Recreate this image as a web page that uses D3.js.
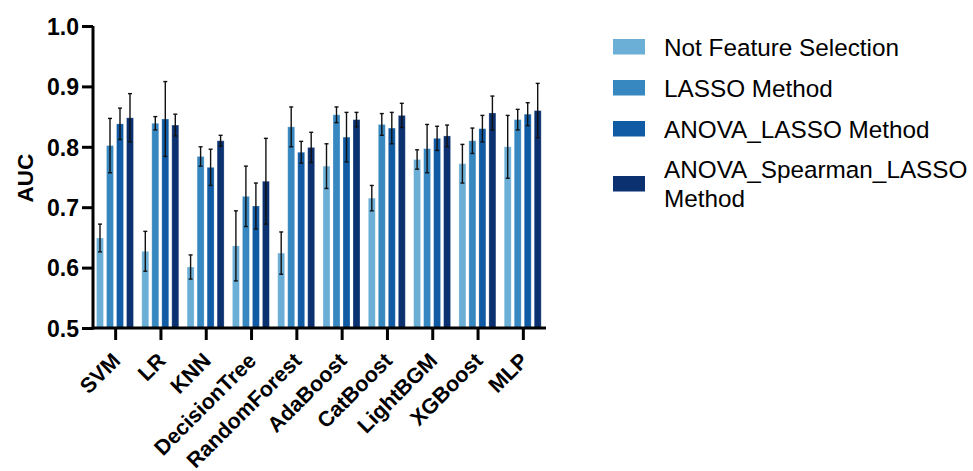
<!DOCTYPE html>
<html><head><meta charset="utf-8">
<script src="https://cdn.jsdelivr.net/npm/d3@7/dist/d3.min.js"></script>
<style>body{margin:0;background:#fff;} svg{display:block;}</style>
</head><body>
<svg id="chart" width="973" height="471"></svg>
<script>
const categories = ["SVM","LR","KNN","DecisionTree","RandomForest","AdaBoost","CatBoost","LightBGM","XGBoost","MLP"];
const seriesNames = ["Not Feature Selection","LASSO Method","ANOVA_LASSO Method","ANOVA_Spearman_LASSO Method"];
const colors = ["#6baed6","#3787c0","#105ba4","#0b3170"];
const notFS      = [0.649,0.627,0.601,0.636,0.624,0.768,0.715,0.779,0.772,0.800];
const notFSErr   = [0.023,0.033,0.020,0.058,0.035,0.037,0.021,0.016,0.032,0.052];
const lasso      = [0.802,0.839,0.784,0.718,0.833,0.853,0.837,0.797,0.810,0.845];
const lassoErr   = [0.045,0.011,0.016,0.050,0.033,0.013,0.018,0.040,0.021,0.017];
const anova      = [0.838,0.846,0.766,0.702,0.791,0.816,0.831,0.814,0.830,0.854];
const anovaErr   = [0.026,0.062,0.030,0.038,0.018,0.041,0.026,0.020,0.022,0.019];
const spearman   = [0.848,0.836,0.810,0.743,0.799,0.845,0.852,0.818,0.856,0.860];
const spearmanErr= [0.040,0.018,0.009,0.071,0.025,0.012,0.020,0.018,0.028,0.045];
const yTicks = [0.5,0.6,0.7,0.8,0.9,1.0];

const values = [notFS, lasso, anova, spearman];
const errs = [notFSErr, lassoErr, anovaErr, spearmanErr];
const FONT = "Liberation Sans, Arial, sans-serif";

const svg = d3.select("#chart");
const x0 = d3.scaleBand().domain(categories).range([93, 546]).padding(0);
const x1 = d3.scaleBand().domain(d3.range(4)).range([3.5, 40.5]).paddingInner(0.3).paddingOuter(0);
const y = d3.scaleLinear().domain([0.5, 1.0]).range([328, 26]);

const data = [];
categories.forEach((c, i) => {
  for (let s = 0; s < 4; s++) data.push({c, s, v: values[s][i], e: errs[s][i]});
});

// bars
svg.append("g").selectAll("rect").data(data).join("rect")
  .attr("x", d => x0(d.c) + x1(d.s))
  .attr("width", x1.bandwidth())
  .attr("y", d => y(d.v))
  .attr("height", d => y(0.5) - y(d.v))
  .attr("fill", d => colors[d.s])
  .attr("stroke", "#ffffff").attr("stroke-opacity", 0.35).attr("stroke-width", 0.8);

// error bars
const eg = svg.append("g").attr("stroke", "#111").attr("stroke-width", 1.4);
data.forEach(d => {
  const cx = x0(d.c) + x1(d.s) + x1.bandwidth() / 2;
  eg.append("line").attr("x1", cx).attr("x2", cx).attr("y1", y(d.v + d.e)).attr("y2", y(d.v - d.e));
  eg.append("line").attr("x1", cx - 2).attr("x2", cx + 2).attr("y1", y(d.v + d.e)).attr("y2", y(d.v + d.e));
  eg.append("line").attr("x1", cx - 2).attr("x2", cx + 2).attr("y1", y(d.v - d.e)).attr("y2", y(d.v - d.e));
});

// y axis
const yAxis = svg.append("g").attr("transform", "translate(93,0)")
  .call(d3.axisLeft(y).tickValues(yTicks).tickFormat(d3.format(".1f")).tickSize(11).tickPadding(3));
yAxis.select(".domain").attr("stroke", "#000").attr("stroke-width", 3).attr("d", "M0,26V329.5");
yAxis.selectAll(".tick line").attr("stroke", "#000").attr("stroke-width", 3);
yAxis.selectAll(".tick text").attr("font-family", FONT)
  .attr("font-weight", "bold").attr("font-size", 23).attr("fill", "#000").attr("dy", "0.36em");

// x axis
const xAxis = svg.append("g").attr("transform", "translate(0,328)")
  .call(d3.axisBottom(x0).tickSize(12).tickPadding(4));
xAxis.select(".domain").attr("stroke", "#000").attr("stroke-width", 3).attr("d", "M91.5,0H546");
xAxis.selectAll(".tick line").attr("stroke", "#000").attr("stroke-width", 3);
xAxis.selectAll(".tick text")
  .attr("font-family", FONT).attr("font-weight", "bold")
  .attr("font-size", 21.5).attr("fill", "#000")
  .attr("text-anchor", "end").attr("dy", null).attr("y", 0)
  .attr("transform", "translate(6,34) rotate(-45)");

// y label
svg.append("text").attr("transform", "translate(33,178) rotate(-90)")
  .attr("text-anchor", "middle").attr("font-family", FONT)
  .attr("font-weight", "bold").attr("font-size", 22.5).text("AUC");

// legend
const legendRows = [
  {lines: [seriesNames[0]], top: 39},
  {lines: [seriesNames[1]], top: 80},
  {lines: [seriesNames[2]], top: 121},
  {lines: ["ANOVA_Spearman_LASSO", "Method"], top: 176}
];
const lg = svg.append("g");
legendRows.forEach((r, i) => {
  lg.append("rect").attr("x", 613).attr("y", r.top).attr("width", 32).attr("height", 15.5).attr("fill", colors[i]);
  const t = lg.append("text").attr("font-family", FONT)
    .attr("font-size", 24.3).attr("fill", "#000");
  if (r.lines.length === 1) {
    t.append("tspan").attr("x", 664).attr("y", r.top + 16.5).text(r.lines[0]);
  } else {
    t.append("tspan").attr("x", 664).attr("y", 178).text(r.lines[0]);
    t.append("tspan").attr("x", 664).attr("y", 207).text(r.lines[1]);
  }
});
</script>
</body></html>
